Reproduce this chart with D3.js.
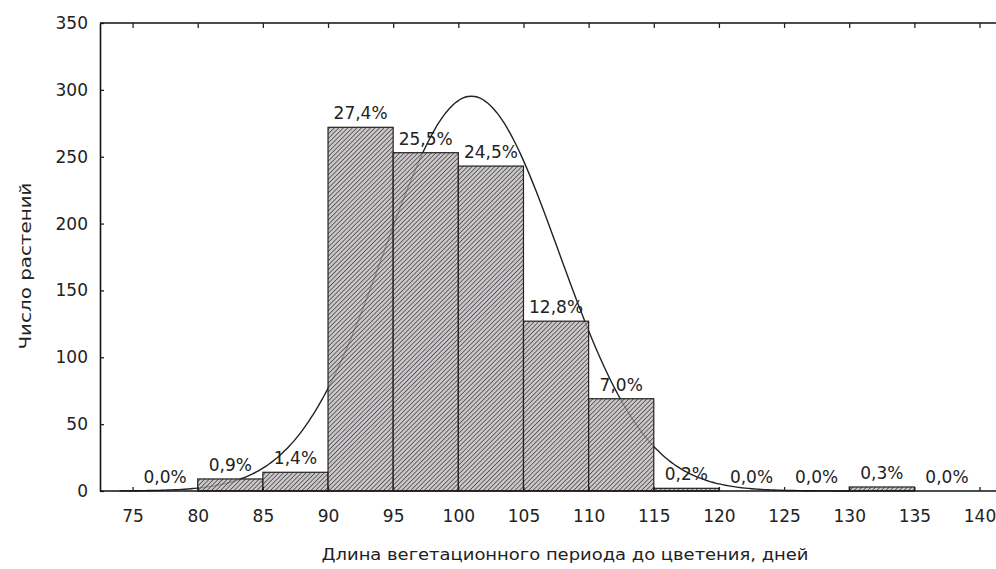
<!DOCTYPE html>
<html>
<head>
<meta charset="utf-8">
<script src="https://cdn.jsdelivr.net/npm/d3@7"></script>
<style>
  body { margin: 0; background: #fff; }
  svg text { font-family: "DejaVu Sans", Arial, sans-serif; fill: #222; }
</style>
</head>
<body>
<div id="chart"></div>
<script>
// histogram bins (left edges, width 5 days)
var binStarts = [75, 80, 85, 90, 95, 100, 105, 110, 115, 120, 125, 130, 135];
var counts = [0, 9, 14, 272, 253, 243, 127, 69, 2, 0, 0, 3, 0];
var pctLabels = ["0,0%", "0,9%", "1,4%", "27,4%", "25,5%", "24,5%", "12,8%", "7,0%", "0,2%", "0,0%", "0,0%", "0,3%", "0,0%"];
var xTicks = [75, 80, 85, 90, 95, 100, 105, 110, 115, 120, 125, 130, 135, 140];
var yTicks = [0, 50, 100, 150, 200, 250, 300, 350];
// fitted normal curve
var fitMean = [101];
var fitSd = [6.7];
var binWidth = 5;

var width = 996, height = 569;
var margin = {top: 23, left: 100, bottom: 78};

var svg = d3.select("#chart").append("svg")
    .attr("width", width)
    .attr("height", height);

var xscale = d3.scaleLinear()
    .domain([72.5, 142.5])
    .range([margin.left, margin.left + 70 * 13.03]);
var yscale = d3.scaleLinear()
    .domain([0, 350])
    .range([height - margin.bottom, margin.top]);

// hatch pattern
var defs = svg.append("defs");
var pat = defs.append("pattern")
    .attr("id", "hatch")
    .attr("patternUnits", "userSpaceOnUse")
    .attr("width", 3.2)
    .attr("height", 3.2)
    .attr("patternTransform", "rotate(45)");
pat.append("rect").attr("width", 3.2).attr("height", 3.2).attr("fill", "#b9b3b6").attr("fill-opacity", 0.75);
pat.append("line").attr("x1", 0).attr("y1", 0).attr("x2", 0).attr("y2", 3.2)
    .attr("stroke", "#3c3c3c").attr("stroke-width", 1.4);

// normal curve (drawn under bars, shows through the hatching)
var N = d3.sum(counts);
var curvePts = d3.range(74, 130.01, 0.25).map(function (x) {
    var z = (x - fitMean[0]) / fitSd[0];
    return [x, N * binWidth / (fitSd[0] * Math.sqrt(2 * Math.PI)) * Math.exp(-z * z / 2)];
});
svg.append("path")
    .datum(curvePts)
    .attr("fill", "none")
    .attr("stroke", "#222")
    .attr("stroke-width", 1.4)
    .attr("d", d3.line()
        .x(function (d) { return xscale(d[0]); })
        .y(function (d) { return yscale(d[1]); })
        .curve(d3.curveBasis));

// bars
svg.append("g").selectAll("rect")
    .data(counts)
    .enter()
    .append("rect")
    .attr("x", function (d, i) { return xscale(binStarts[i]); })
    .attr("y", function (d) { return yscale(d); })
    .attr("width", function (d, i) { return xscale(binStarts[i] + binWidth) - xscale(binStarts[i]); })
    .attr("height", function (d) { return yscale(0) - yscale(d); })
    .attr("fill", "url(#hatch)")
    .attr("stroke", function (d) { return d > 0 ? "#222" : "none"; })
    .attr("stroke-width", 1.2);

// percentage labels
svg.append("g").selectAll("text")
    .data(pctLabels)
    .enter()
    .append("text")
    .attr("x", function (d, i) { return xscale(binStarts[i] + binWidth / 2); })
    .attr("y", function (d, i) { return yscale(counts[i]) - 8; })
    .attr("text-anchor", "middle")
    .style("font-size", "17px")
    .text(function (d) { return d; });

// axes
var plotRight = width;
var yAxis = d3.axisLeft(yscale).tickValues(yTicks).tickSizeInner(-4).tickSizeOuter(0).tickPadding(12);
var gy = svg.append("g")
    .attr("transform", "translate(" + margin.left + ",0)")
    .call(yAxis);
var xAxis = d3.axisBottom(xscale).tickValues(xTicks).tickSizeInner(-4).tickSizeOuter(0).tickPadding(19);
var gx = svg.append("g")
    .attr("transform", "translate(0," + yscale(0) + ")")
    .call(xAxis);
var xTop = d3.axisTop(xscale).tickValues(xTicks).tickSizeInner(-5).tickSizeOuter(0).tickFormat("");
var gt = svg.append("g")
    .attr("transform", "translate(0," + yscale(350) + ")")
    .call(xTop);
[gx, gy, gt].forEach(function (g) {
    g.select(".domain").attr("stroke", "#111").attr("stroke-width", 1.6);
    g.selectAll(".tick line").attr("stroke", "#222").attr("stroke-width", 1.3);
    g.selectAll("text").style("font-size", "17px").attr("fill", "#222")
        .style("font-family", "'DejaVu Sans', Arial, sans-serif");
});
gx.select(".domain").attr("d", "M" + margin.left + ",0H" + plotRight);
gt.select(".domain").attr("d", "M" + margin.left + ",0H" + plotRight);
gx.selectAll(".tick text").attr("dy", "0.71em");

// axis titles
svg.append("text")
    .attr("x", 565)
    .attr("y", 560)
    .attr("text-anchor", "middle")
    .attr("textLength", 487)
    .attr("lengthAdjust", "spacingAndGlyphs")
    .style("font-size", "16px")
    .text("Длина вегетационного периода до цветения, дней");
svg.append("text")
    .attr("transform", "translate(31,266) rotate(-90)")
    .attr("text-anchor", "middle")
    .attr("textLength", 167)
    .attr("lengthAdjust", "spacingAndGlyphs")
    .style("font-size", "16px")
    .text("Число растений");
</script>
</body>
</html>
